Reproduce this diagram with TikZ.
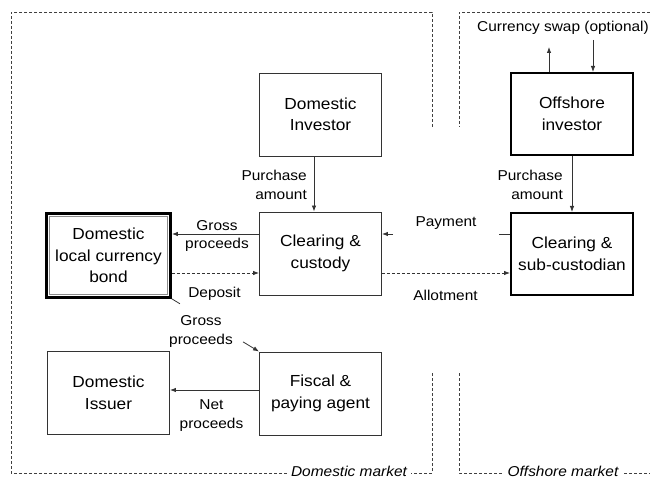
\documentclass[tikz,border=0pt]{standalone}
\usepackage{fontspec}
\setmainfont{Liberation Sans}[FakeStretch=1.08]
\usetikzlibrary{arrows.meta}
\newcommand\boxfont{\fontsize{16}{21.5}\selectfont}
\newcommand\lblfont{\fontsize{14.3}{18.5}\selectfont}
\tikzset{
  box/.style={draw=black!80, line width=0.9pt, minimum width=122pt, minimum height=83pt,
              inner sep=2pt, align=center, font=\boxfont},
  obox/.style={box, draw=black, line width=1.6pt, minimum width=122.4pt, minimum height=82.4pt},
  lbl/.style={inner sep=0pt, align=center, font=\lblfont},
  arr/.style={draw=black!80, line width=0.8pt, -{Latex[length=6pt,width=4.5pt]}},
  dashline/.style={dash pattern=on 3pt off 2pt},
  frame/.style={draw=black!75, line width=0.9pt, dash pattern=on 3pt off 2pt},
  mkt/.style={fill=white, inner xsep=4pt, inner ysep=2pt, font=\lblfont\itshape, anchor=base}
}
\begin{document}
\begin{tikzpicture}[x=1pt, y=-1pt]
\useasboundingbox (0,0) rectangle (650,486);

% market frames
\draw[frame] (432,127) -- (432,12) -- (11,12) -- (11,473) -- (432,473) -- (432,373);
\node[mkt] (dm) at (349,476) {Domestic market};
\draw[frame] (650,12) -- (459,12) -- (459,127);
\draw[frame] (459,373) -- (459,473) -- (650,473);
\node[mkt] (om) at (563,476) {Offshore market};

% participants
\node[box]  (dinv) at (320.5,114.5) {Domestic\\Investor};
\node[obox] (oinv) at (572,114)     {Offshore\\investor};
\node[box]  (cust) at (320.5,253.5) {Clearing \&\\custody};
\node[obox] (subc) at (572,254)     {Clearing \&\\sub-custodian};
\node[box, draw=black, line width=2.8pt, minimum width=124pt, minimum height=84pt]
            (bond) at (108.5,255.5) {Domestic\\local currency\\bond};
\draw[black!45, line width=0.8pt] ([shift={(4.5pt,4.5pt)}]bond.south west)
      rectangle ([shift={(-4.5pt,-4.5pt)}]bond.north east);
\node[box]  (iss)  at (108.5,393)   {Domestic\\Issuer};
\node[box]  (fisc) at (320.5,393.5) {Fiscal \&\\paying agent};

% currency swap
\node[lbl, anchor=base] (swap) at (563,32) {Currency swap (optional)};
\coordinate (swU) at (549,47);
\coordinate (swD) at (593,40);
\draw[arr] (oinv.north -| swU) -- (swU);
\draw[arr] (swD) -- (swD |- oinv.north);

% purchase amounts
\draw[arr] ([xshift=-6.5pt]dinv.south) -- ([xshift=-6.5pt]cust.north);
\node[lbl, anchor=east, align=right] (pa1) at (307,185) {Purchase\\amount};
\draw[arr] (oinv.south) -- (subc.north);
\node[lbl, anchor=east, align=right] (pa2) at (563,185) {Purchase\\amount};

% gross proceeds and deposit
\coordinate (gpA) at ([yshift=19.5pt]cust.west);
\draw[arr] (gpA) -- (gpA -| bond.east);
\node[lbl] (gp1) at (217,236) {Gross\\proceeds};
\coordinate (depB) at ([yshift=-19.5pt]cust.west);
\draw[arr, dashline] (depB -| bond.east) -- (depB);
\node[lbl, anchor=base] (dep) at (214.5,297) {Deposit};

% payment and allotment
\coordinate (payA) at ([yshift=20pt]subc.west);
\draw[arr, dash pattern=on 11pt off 106pt on 20pt] (payA) -- (payA -| cust.east);
\node[lbl, anchor=base] (pay) at (446,227) {Payment};
\coordinate (allA) at ([yshift=-19.5pt]cust.east);
\draw[arr, dashline] (allA) -- (allA -| subc.west);
\node[lbl, anchor=base] (allot) at (445.5,300) {Allotment};

% gross proceeds to fiscal agent
\draw[arr, dash pattern=on 9.4pt off 73.7pt on 40pt] (bond.south east) -- (fisc.north west);
\node[lbl] (gp2) at (201,331.3) {Gross\\proceeds};

% net proceeds
\coordinate (netA) at ([yshift=3.5pt]fisc.west);
\draw[arr] (netA) -- (netA -| iss.east);
\node[lbl] (np) at (211.5,415.4) {Net\\proceeds};
\end{tikzpicture}
\end{document}
